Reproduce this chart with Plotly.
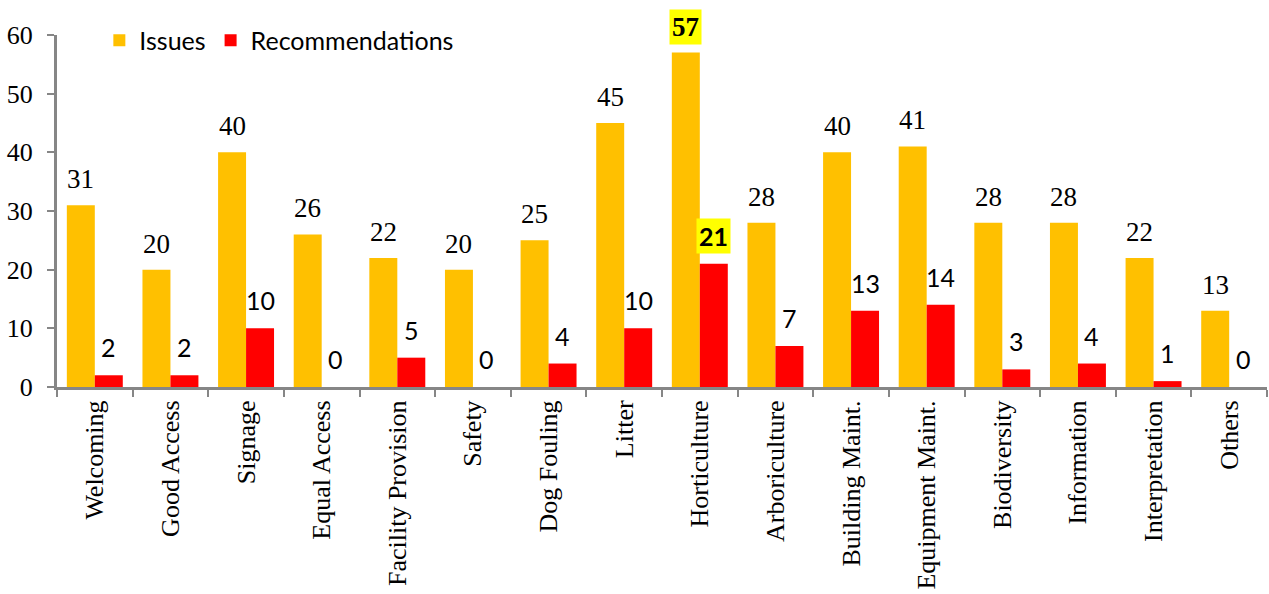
import plotly.graph_objects as go

categories = [
    "Welcoming", "Good Access", "Signage", "Equal Access", "Facility Provision",
    "Safety", "Dog Fouling", "Litter", "Horticulture", "Arboriculture",
    "Building Maint.", "Equipment Maint.", "Biodiversity", "Information",
    "Interpretation", "Others",
]
issues = [31, 20, 40, 26, 22, 20, 25, 45, 57, 28, 40, 41, 28, 28, 22, 13]
recommendations = [2, 2, 10, 0, 5, 0, 4, 10, 21, 7, 13, 14, 3, 4, 1, 0]

SERIF = "Liberation Serif, Times New Roman, serif"
SANS = "Lato, Carlito, Calibri, sans-serif"
AXIS_GREY = "#868686"
BARGAP = 0.26
half = (1 - BARGAP) / 4  # centre offset of each bar in the group

fig = go.Figure()
fig.add_trace(go.Bar(name="Issues", x=categories, y=issues,
                     marker=dict(color="#FFC000", line=dict(width=0))))
fig.add_trace(go.Bar(name="Recommendations", x=categories, y=recommendations,
                     marker=dict(color="#FF0000", line=dict(width=0))))

# data labels; the largest value of each series gets a yellow highlight
annotations = []
for series, offset, font, shift in [(issues, -half, SERIF, 10),
                                    (recommendations, half, SANS, 12)]:
    top = max(series)
    for i, v in enumerate(series):
        hi = v == top
        annotations.append(dict(
            x=i + offset, y=v, xref="x", yref="y",
            text=f"<b>{v}</b>" if hi else str(v),
            showarrow=False, yanchor="bottom", yshift=shift - (2 if hi else 0),
            font=dict(family=font, size=25 if font == SANS else 27, color="black"),
            bgcolor="#FFFF00" if hi else None, borderpad=2 if hi else 0,
        ))

fig.update_layout(
    barmode="group",
    bargap=BARGAP,
    bargroupgap=0,
    width=1269,
    height=594,
    plot_bgcolor="white",
    paper_bgcolor="white",
    margin=dict(l=57, r=2, t=35, b=207, autoexpand=False),
    annotations=annotations,
    legend=dict(
        orientation="h", x=0.035, y=1.05, xanchor="left", yanchor="top",
        font=dict(family=SANS, size=25, color="black"),
        bgcolor="rgba(0,0,0,0)", itemsizing="constant",
    ),
    xaxis=dict(
        tickangle=-90, tickson="boundaries", ticks="outside", ticklen=7,
        tickcolor=AXIS_GREY, tickwidth=2, showline=True, linecolor=AXIS_GREY,
        linewidth=3, showgrid=False, automargin=False,
        tickfont=dict(family=SERIF, size=26, color="black"),
    ),
    yaxis=dict(
        range=[0, 60], dtick=10, ticks="outside", ticklen=7, tickcolor=AXIS_GREY,
        tickwidth=2, showline=True, linecolor=AXIS_GREY, linewidth=3,
        showgrid=False, zeroline=False, automargin=False, ticklabelstandoff=9,
        tickfont=dict(family=SERIF, size=26, color="black"),
    ),
)

# the page body has a default 8px margin; drop it so the figure fills the window
fig.write_html(
    "out.html",
    config={"displayModeBar": False},
    post_script="document.body.style.margin = '0';",
)
